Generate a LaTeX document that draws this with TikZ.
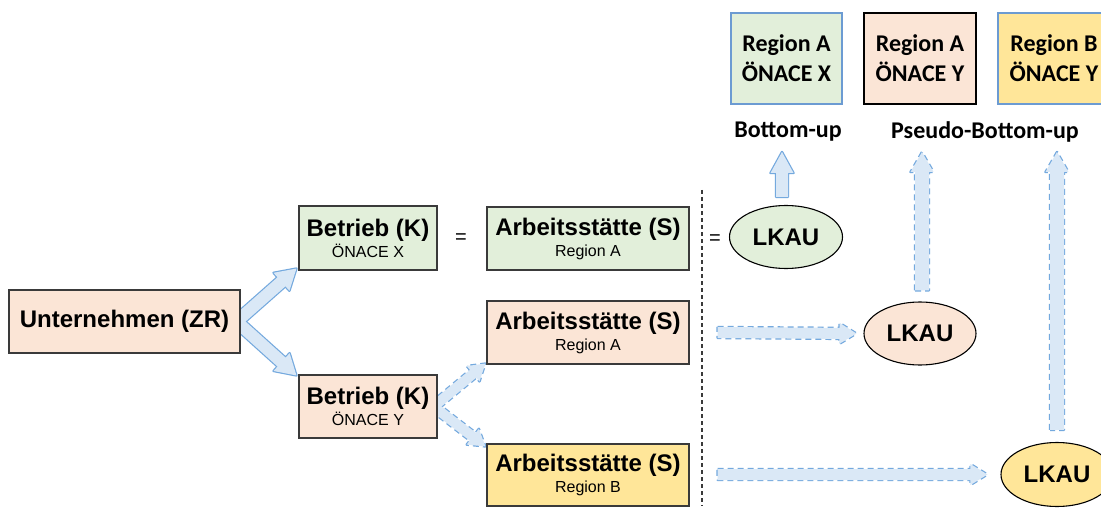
\documentclass[tikz,border=0pt]{standalone}
\usepackage{fontspec}
\setmainfont{Liberation Sans}
\newfontfamily\calibrifont{Carlito}
\usetikzlibrary{calc,shapes.geometric}

\definecolor{peach}{HTML}{FBE5D6}
\definecolor{mint}{HTML}{E2EFDA}
\definecolor{butter}{HTML}{FFE699}
\definecolor{boxline}{HTML}{3A3A3A}
\definecolor{arrowfill}{HTML}{DAE8F6}
\definecolor{arrowline}{HTML}{74A9DE}
\definecolor{tileline}{HTML}{6C9BD2}

\pgfdeclarelayer{back}
\pgfsetlayers{back,main}

% Outline of a block arrow: #1 style, #2 tail, #3 tip,
% #4 shaft half-width, #5 head half-width, #6 head length
\newcommand\blockarrowpath[6]{%
  \coordinate (headbase) at ($(#3)!#6!(#2)$);
  \path[#1] ($(#2)!#4!90:(#3)$) -- ($(headbase)!#4!90:(#3)$)
    -- ($(headbase)!#5!90:(#3)$) -- (#3)
    -- ($(headbase)!#5!-90:(#3)$) -- ($(headbase)!#4!-90:(#3)$)
    -- ($(#2)!#4!-90:(#3)$) -- cycle;
}

\tikzset{
  unitbox/.style={draw=boxline, line width=1.1pt, inner sep=0pt, align=center,
    font=\fontsize{24}{21}\selectfont\bfseries},
  tile/.style={line width=1.1pt, inner sep=0pt, align=center,
    minimum width=111pt, minimum height=91pt,
    font=\calibrifont\fontsize{24}{30}\selectfont\bfseries},
  lkau/.style={ellipse, draw=black, line width=1.1pt, inner sep=0pt,
    minimum width=113pt, minimum height=63pt,
    font=\fontsize{24}{24}\selectfont\bfseries},
  method/.style={inner sep=0pt, anchor=base,
    font=\calibrifont\fontsize{24}{24}\selectfont\bfseries},
  equal/.style={inner sep=0pt, font=\fontsize{20}{20}\selectfont},
  arrowedge/.style={draw=arrowline, line width=2.4pt, line join=round},
  dashedge/.style={arrowedge, dash pattern=on 6pt off 4pt},
  arrowbody/.style={fill=arrowfill},
  separator/.style={draw=boxline, line width=1.1pt, dash pattern=on 4pt off 3pt},
}

\newcommand\sub[1]{{\fontsize{16}{21}\selectfont\mdseries #1}}

\begin{document}
\begin{tikzpicture}[x=1pt, y=-1pt]
\useasboundingbox (0,0) rectangle (1101,508);

% enterprise, establishments and local units
\node[unitbox, fill=peach, minimum width=231pt, minimum height=63pt] (un) at (124.5,321.5) {Unternehmen (ZR)};
\node[unitbox, fill=mint, minimum width=138pt, minimum height=64pt] (bx) at (368,238) {Betrieb (K)\\\sub{ÖNACE X}};
\node[unitbox, fill=peach, minimum width=138pt, minimum height=63pt] (by) at (368,406.5) {Betrieb (K)\\\sub{ÖNACE Y}};
\node[unitbox, fill=mint, minimum width=202pt, minimum height=63pt] (sa1) at (588,238.5) {Arbeitsstätte (S)\\\sub{Region A}};
\node[unitbox, fill=peach, minimum width=202pt, minimum height=63pt] (sa2) at (588,332.5) {Arbeitsstätte (S)\\\sub{Region A}};
\node[unitbox, fill=butter, minimum width=202pt, minimum height=62pt] (sb) at (588,475) {Arbeitsstätte (S)\\\sub{Region B}};

\node[equal] (eq1) at (461,239) {=};
\node[equal] (eq2) at (715,240) {=};

% kind-of-activity units
\node[lkau, fill=mint] (lk1) at (786,237) {LKAU};
\node[lkau, fill=peach, minimum width=112pt] (lk2) at (920,333.5) {LKAU};
\node[lkau, fill=butter, minimum width=112pt, minimum height=64pt] (lk3) at (1057,474.5) {LKAU};

% result tiles
\node[tile, draw=tileline, fill=mint] (t1) at (786.5,58.5) {Region A\\ÖNACE X};
\node[tile, draw=black, fill=peach, minimum width=112pt] (t2) at (920,58.5) {Region A\\ÖNACE Y};
\node[tile, draw=tileline, fill=butter, minimum width=112pt] (t3) at (1054,58.5) {Region B\\ÖNACE Y};

\node[method] (bu) at (788,138) {Bottom-up};
\node[method] (pbu) at (985,139) {Pseudo-Bottom-up};

% separator
\coordinate (septop) at (702,190);
\coordinate (sepbot) at (702,506);
\draw[separator] (septop) -- (sepbot);

% arrows from the enterprise to its establishments (behind the boxes)
\coordinate (untail) at ($(un.east)+(-4,0)$);
\coordinate (bxtip) at ($(bx.south west)+(-2,-2)$);
\coordinate (bytip) at ($(by.north west)+(-2,1)$);
\coordinate (bytail) at ($(by.east)+(-4,0)$);
\coordinate (sa2tip) at ($(sa2.south west)+(-1,-1)$);
\coordinate (sbtip) at ($(sb.north west)+(-1,3)$);
\begin{pgfonlayer}{back}
  \fill[white] (0,0) rectangle (1101,508);
  \blockarrowpath{arrowedge}{untail}{bxtip}{6pt}{12pt}{20pt}
  \blockarrowpath{arrowedge}{untail}{bytip}{6pt}{12pt}{20pt}
  \blockarrowpath{arrowbody}{untail}{bxtip}{6pt}{12pt}{20pt}
  \blockarrowpath{arrowbody}{untail}{bytip}{6pt}{12pt}{20pt}
  \blockarrowpath{dashedge}{bytail}{sa2tip}{5pt}{10pt}{16pt}
  \blockarrowpath{dashedge}{bytail}{sbtip}{5pt}{10pt}{16pt}
  \blockarrowpath{arrowbody}{bytail}{sa2tip}{5pt}{10pt}{16pt}
  \blockarrowpath{arrowbody}{bytail}{sbtip}{5pt}{10pt}{16pt}
\end{pgfonlayer}

% arrows towards the local kind-of-activity units
\coordinate (h1tail) at ($(sa2.east)+(28,0)$);
\coordinate (h1tip) at ($(lk2.west)+(-7,0)$);
\coordinate (h2tail) at ($(sa2.east |- lk3.west)+(28,0)$);
\coordinate (h2tip) at ($(lk3.west)+(-13,0)$);
\blockarrowpath{dashedge}{h1tail}{h1tip}{5.5pt}{10.5pt}{17pt}
\blockarrowpath{arrowbody}{h1tail}{h1tip}{5.5pt}{10.5pt}{17pt}
\blockarrowpath{dashedge}{h2tail}{h2tip}{5.5pt}{10.5pt}{17pt}
\blockarrowpath{arrowbody}{h2tail}{h2tip}{5.5pt}{10.5pt}{17pt}

% arrows up to the aggregation methods
\coordinate (v1tail) at ($(lk1.north)+(-4,-8)$);
\coordinate (v1tip) at (782,152);
\coordinate (v2tail) at ($(lk2.north)+(2,-11)$);
\coordinate (v2tip) at (922,152);
\coordinate (v3tail) at ($(lk3.north)+(0,-12)$);
\coordinate (v3tip) at (1057,152);
\blockarrowpath{arrowedge}{v1tail}{v1tip}{6pt}{11.5pt}{21pt}
\blockarrowpath{arrowbody}{v1tail}{v1tip}{6pt}{11.5pt}{21pt}
\blockarrowpath{dashedge}{v2tail}{v2tip}{7pt}{11.5pt}{20pt}
\blockarrowpath{arrowbody}{v2tail}{v2tip}{7pt}{11.5pt}{20pt}
\blockarrowpath{dashedge}{v3tail}{v3tip}{7pt}{11.5pt}{20pt}
\blockarrowpath{arrowbody}{v3tail}{v3tip}{7pt}{11.5pt}{20pt}
\end{tikzpicture}
\end{document}
